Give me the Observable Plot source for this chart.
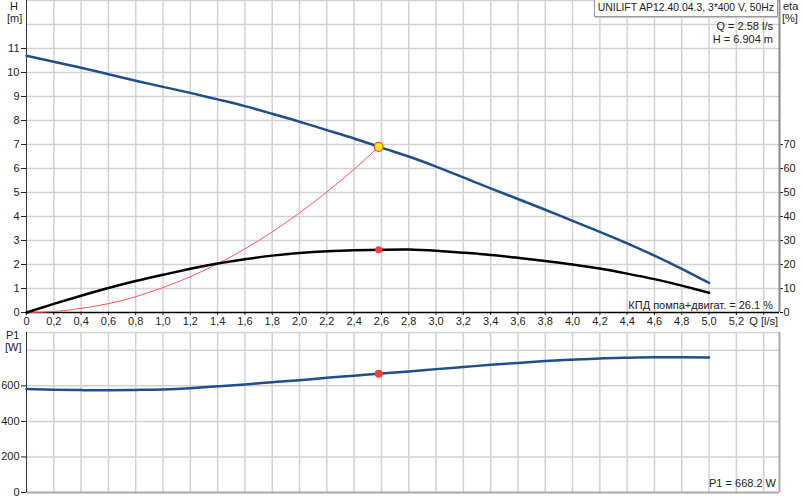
<!DOCTYPE html>
<html><head><meta charset="utf-8">
<script src="https://cdn.jsdelivr.net/npm/d3@7"></script>
<script src="https://cdn.jsdelivr.net/npm/@observablehq/plot@0.6"></script>
<style>
body{margin:0;background:#fff;font-family:"Liberation Sans",Arial,sans-serif;}
#wrap{position:relative;width:803px;height:500px;overflow:hidden;}
#top,#bot{position:absolute;left:0;}
#top{top:0}
#bot{top:330px}
.lbl{position:absolute;font-size:11px;color:#222;white-space:nowrap;line-height:12px}
#box{right:25px;top:0;padding:0 3px;height:16px;border:1px solid #999;border-top:none;background:#fff;box-shadow:1px 1px 1px #ccc;line-height:16px;font-size:10.4px;color:#222}
</style></head><body>
<div id="wrap">
<div id="top"></div><div id="bot"></div>
<div class="lbl" id="box">UNILIFT AP12.40.04.3, 3*400 V, 50Hz</div>
<div class="lbl" style="right:30px;top:20px">Q = 2.58 l/s</div>
<div class="lbl" style="right:30px;top:33px">H = 6.904 m</div>
<div class="lbl" style="left:783px;top:0px">eta</div>
<div class="lbl" style="left:782px;top:12px">[%]</div>
<div class="lbl" style="left:10px;top:0px">H</div>
<div class="lbl" style="left:7px;top:12px">[m]</div>
<div class="lbl" style="left:6px;top:329px">P1</div>
<div class="lbl" style="left:5px;top:341px">[W]</div>
<div class="lbl" style="right:30px;top:299px">КПД помпа+двигат. = 26.1 %</div>
<div class="lbl" style="right:27px;top:477px">P1 = 668.2 W</div>
</div>
<script>
// Flow rate samples [l/s]
const qPts = [0,0.2,0.4,0.6,0.8,1.0,1.2,1.4,1.6,1.8,2.0,2.2,2.4,2.6,2.8,3.0,3.2,3.4,3.6,3.8,4.0,4.2,4.4,4.6,4.8,5.0];
// Head H [m]
const headH = [10.70,10.45,10.20,9.93,9.66,9.40,9.15,8.88,8.60,8.28,7.95,7.60,7.25,6.87,6.50,6.08,5.63,5.17,4.73,4.28,3.82,3.36,2.88,2.37,1.82,1.23];
// Efficiency eta [%]
const etaPct = [0,3.6,7.0,10.2,13.1,15.7,18.2,20.4,22.2,23.7,24.8,25.5,25.9,26.1,26.2,25.7,24.9,24.0,22.8,21.5,20.0,18.3,16.2,13.9,11.2,8.2];
// Power input P1 [W]
const powerP1 = [582,578,576,575,577,580,587,597,608,620,632,645,657,670,681,694,706,718,729,739,747,754,758,761,761,760];
// System curve through duty point
const qSys = [0,0.2,0.4,0.6,0.8,1.0,1.2,1.4,1.6,1.8,2.0,2.2,2.4,2.58];
const hSys = [0,0.04,0.17,0.37,0.66,1.04,1.49,2.03,2.65,3.36,4.15,5.02,5.97,6.904];
// Duty point
const dutyQ = [2.58];
const dutyH = [6.904];
const dutyEta = [26.1];
const dutyP1 = [668.2];
// Ticks
const xTicks = d3.range(0,28).map(i => i/5);
const hTicks = d3.range(0,12);
const etaTicks = d3.range(0,80,10);
const p1Ticks = [0,200,400,600];

const xDomain = [0, 5.516];
const blue = "#1f4e8c";
const grid = "#d2d2d2";
const fmtX = d => d === 0 ? "0" : Math.abs(d-5.4) < 1e-9 ? "Q [l/s]" : d.toFixed(1).replace(".", ",");

const hData = qPts.map((q,i) => ({q, h: headH[i]}));
const eData = qPts.map((q,i) => ({q, e: etaPct[i]/10}));
const pData = qPts.map((q,i) => ({q, p: powerP1[i]}));
const sData = qSys.map((q,i) => ({q, h: hSys[i]}));
const style = {fontFamily:"Liberation Sans, Arial, sans-serif", fontSize:"11px", color:"#222", background:"transparent", overflow:"visible"};

const topPlot = Plot.plot({
  width: 803, height: 330, marginLeft: 26, marginRight: 24, marginTop: 0, marginBottom: 18,
  style,
  x: {domain: xDomain},
  y: {domain: [0, 13]},
  marks: [
    Plot.ruleX(xTicks.slice(1), {stroke: grid, strokeWidth: 1.5}),
    Plot.ruleY(d3.range(1,14), {stroke: grid, strokeWidth: 1.5}),
    Plot.axisX(xTicks, {tickFormat: fmtX, tickSize: 3, tickPadding: 2, label: null, stroke:"#222"}),
    Plot.axisY(hTicks, {anchor: "left", tickSize: 5, tickPadding: 2, label: null}),
    Plot.axisY(etaTicks.map(v => v/10), {anchor: "right", tickFormat: d => String(Math.round(d*10)), tickSize: 3, tickPadding: 1, label: null}),
    Plot.ruleX([xDomain[1]], {stroke: "#888", strokeWidth: 2}),
    Plot.ruleX([0], {stroke: "#333", strokeWidth: 1}),
    Plot.ruleY([0], {stroke: "#000", strokeWidth: 1.5}),
    Plot.line(sData, {x: "q", y: "h", stroke: "#ff5555", strokeWidth: 1, curve: "natural"}),
    Plot.line(eData, {x: "q", y: "e", stroke: "#000", strokeWidth: 2.5, curve: "natural"}),
    Plot.line(hData, {x: "q", y: "h", stroke: blue, strokeWidth: 2.5, curve: "natural"}),
    Plot.dot(dutyQ, {x: d => d, y: (d,i) => dutyEta[i]/10, r: 3.5, fill: "#ff3b3b", stroke: null}),
    Plot.dot(dutyQ, {x: d => d, y: (d,i) => dutyH[i], r: 4.5, fill: "#ffee00", stroke: "#ff4444", strokeWidth: 1.2})
  ]
});
document.getElementById("top").appendChild(topPlot);

const botPlot = Plot.plot({
  width: 803, height: 170, marginLeft: 26, marginRight: 24, marginTop: 2, marginBottom: 8,
  style,
  x: {domain: xDomain, axis: null},
  y: {domain: [0, 900], axis: null},
  marks: [
    Plot.ruleX(xTicks.slice(1), {stroke: grid, strokeWidth: 1.5}),
    Plot.ruleY([200,400,600,800,900], {stroke: grid, strokeWidth: 1.5}),
    Plot.axisY(p1Ticks, {anchor: "left", tickSize: 5, tickPadding: 2, label: null}),
    Plot.ruleX([xDomain[1]], {stroke: "#aaa", strokeWidth: 2}),
    Plot.ruleY([0], {stroke: "#aaa", strokeWidth: 2}),
    Plot.ruleX([0], {stroke: "#333", strokeWidth: 1}),
    Plot.line(pData, {x: "q", y: "p", stroke: blue, strokeWidth: 2.5, curve: "natural"}),
    Plot.dot(dutyQ, {x: d => d, y: (d,i) => dutyP1[i], r: 4, fill: "#ff3b3b", stroke: null})
  ]
});
document.getElementById("bot").appendChild(botPlot);
</script>
</body></html>
